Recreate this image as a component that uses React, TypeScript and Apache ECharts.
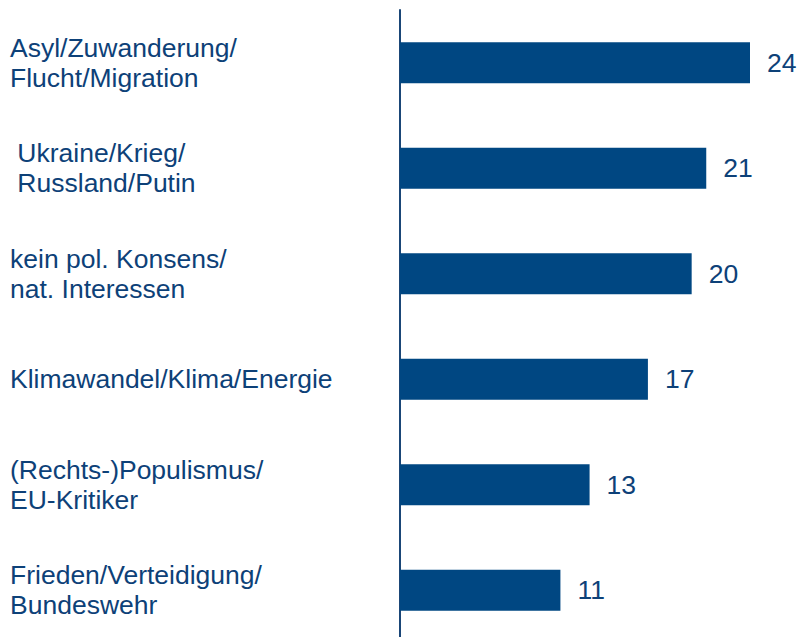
import React, { useEffect, useRef } from "react";
import * as echarts from "echarts";

const categories = [
  "Asyl/Zuwanderung/\nFlucht/Migration",
  " Ukraine/Krieg/\n Russland/Putin",
  "kein pol. Konsens/\nnat. Interessen",
  "Klimawandel/Klima/Energie",
  "(Rechts-)Populismus/\nEU-Kritiker",
  "Frieden/Verteidigung/\nBundeswehr",
];
const values = [24, 21, 20, 17, 13, 11];

const BAR = "#004782";
const TEXT = "#0d4178";
const FONT = "Arial, 'Liberation Sans', sans-serif";

export default function App() {
  const ref = useRef<HTMLDivElement>(null);
  useEffect(() => {
    document.body.style.margin = "0";
    const chart = echarts.init(ref.current!, null, { renderer: "svg" });
    chart.setOption({
      animation: false,
      backgroundColor: "#ffffff",
      grid: { left: 400, top: 10, width: 350, height: 633, containLabel: false },
      xAxis: {
        type: "value",
        min: 0,
        max: 24,
        show: false,
      },
      yAxis: {
        type: "category",
        data: categories,
        inverse: true,
        axisLine: { show: true, lineStyle: { color: "#1a4677", width: 2 } },
        axisTick: { show: false },
        axisLabel: {
          align: "left",
          margin: 390,
          fontSize: 26.5,
          lineHeight: 30,
          padding: [3, 0, 0, 0],
          color: TEXT,
          fontFamily: FONT,
        },
      },
      series: [
        {
          type: "bar",
          data: values,
          barWidth: 41,
          itemStyle: { color: BAR },
          label: {
            show: true,
            position: "right",
            distance: 17,
            fontSize: 26.5,
            color: TEXT,
            fontFamily: FONT,
          },
        },
      ],
    });
    return () => chart.dispose();
  }, []);
  return (
    <div style={{ width: 798, height: 637, overflow: "hidden" }}>
      <div ref={ref} style={{ width: 798, height: 650 }} />
    </div>
  );
}
